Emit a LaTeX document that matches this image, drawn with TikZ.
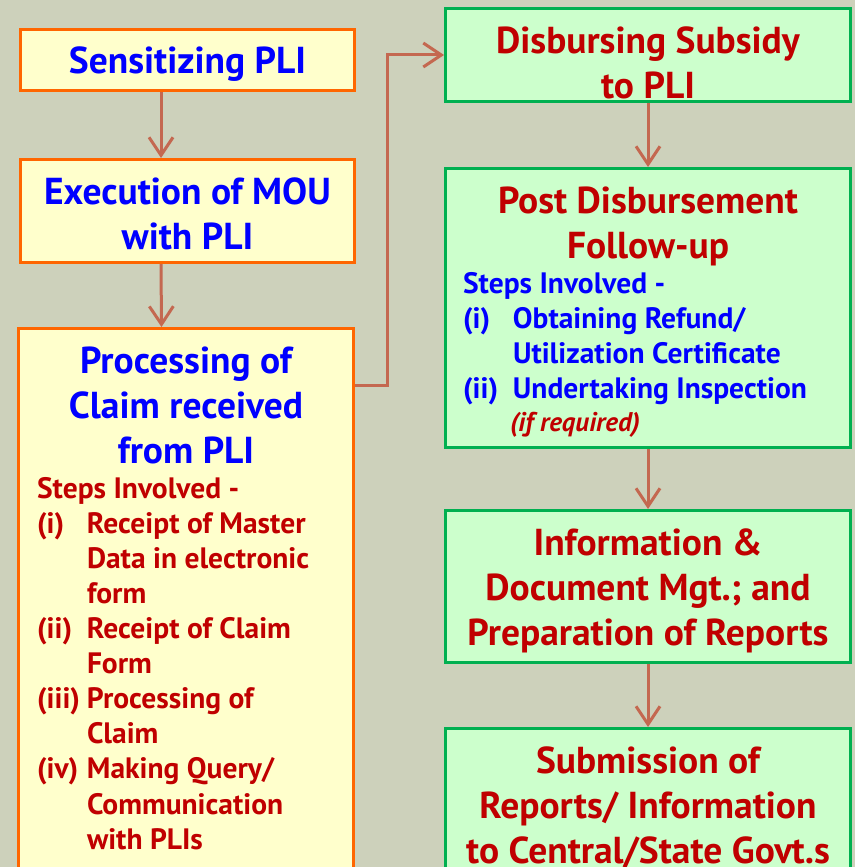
\documentclass[tikz,border=0pt]{standalone}
\usepackage{fontspec}
\setmainfont{PT Sans}
\usetikzlibrary{arrows.meta,positioning}
\definecolor{bgcol}{RGB}{205,209,187}
\definecolor{yellowfill}{RGB}{255,255,204}
\definecolor{orangeline}{RGB}{255,102,0}
\definecolor{greenfill}{RGB}{204,255,204}
\definecolor{greenline}{RGB}{0,176,80}
\definecolor{arrowcol}{RGB}{196,104,80}
\definecolor{ttblue}{RGB}{0,0,255}
\definecolor{ttred}{RGB}{192,0,0}
\newcommand{\titlefont}{\fontsize{37.5}{45}\selectfont\bfseries}
\newcommand{\stepsfont}{\fontsize{29.5}{35.1}\selectfont\bfseries}
\newcommand{\boxtext}[3]{\begin{minipage}[c][#2][t]{#1}#3\end{minipage}}
\newcommand{\firstline}{\rule{0pt}{44.5pt}}
\newcommand{\stepline}[2]{\par\hangindent=50pt\hangafter=1\noindent\makebox[50pt][l]{#1}#2\par}
\tikzset{
  yellowbox/.style={rectangle, draw=orangeline, fill=yellowfill, line width=3pt, inner sep=0pt, anchor=north west},
  greenbox/.style={rectangle, draw=greenline, fill=greenfill, line width=3pt, inner sep=0pt, anchor=north west},
  flow/.style={draw=arrowcol, line width=3pt, -{Straight Barb[length=18pt,width=24pt]}}
}
\begin{document}
\begin{tikzpicture}[x=1pt,y=-1pt]
    \useasboundingbox (0,0) rectangle (855,867);
    \fill [bgcol] (0,0) rectangle (855,867);
    \begin{scope}
        \clip (0,0) rectangle (855,867);
        % Caselle a sinistra
        \node [yellowbox] (sens) at (19,28) {\boxtext{334pt}{61pt}{\centering\titlefont\color{ttblue}\firstline Sensitizing PLI\par}};
        \node [yellowbox] (mou) at (19,158) {\boxtext{334pt}{103pt}{\centering\titlefont\color{ttblue}\firstline Execution of MOU\\with PLI\par}};
        \node [yellowbox] (claim) at (17,327) {\boxtext{335pt}{600pt}{\centering\titlefont\color{ttblue}\firstline Processing of\\Claim received\\from PLI\par
            \raggedright\leftskip=18.5pt\stepsfont\color{ttred}Steps Involved -\par
            \stepline{(i)}{Receipt of Master\newline Data in electronic\newline form}
            \stepline{(ii)}{Receipt of Claim\newline Form}
            \stepline{(iii)}{Processing of\newline Claim}
            \stepline{(iv)}{Making Query/\newline Communication\newline with PLIs}}};
        % Caselle a destra
        \node [greenbox] (disb) at (444,7) {\boxtext{405pt}{93pt}{\centering\titlefont\color{ttred}\firstline Disbursing Subsidy\\to PLI\par}};
        \node [greenbox] (post) at (444,167) {\boxtext{405pt}{279pt}{\centering\titlefont\color{ttred}\firstline Post Disbursement\\Follow-up\par
            \raggedright\leftskip=17.5pt\stepsfont\color{ttblue}Steps Involved -\par
            \stepline{(i)}{Obtaining Refund/\newline Utilization Certificate}
            \stepline{(ii)}{Undertaking Inspection}
            {\fontsize{27}{33}\selectfont\bfseries\itshape\color{ttred}\hspace*{47pt}(if required)\par}}};
        \node [greenbox] (info) at (444,509) {\boxtext{405pt}{152pt}{\centering\titlefont\color{ttred}\firstline Information \&\\Document Mgt.; and\\Preparation of Reports\par}};
        \node [greenbox] (subm) at (444,727) {\boxtext{405pt}{200pt}{\centering\titlefont\color{ttred}\firstline Submission of\\Reports/ Information\\to Central/State Govt.s\par}};
    \end{scope}
    % Frecce
    \draw [flow] ([xshift=-26.5pt]sens.south) -- ([xshift=-26.5pt]mou.north);
    \draw [flow] ([xshift=-26.5pt]mou.south) -- ([xshift=-24.5pt]claim.north);
    \draw [flow] ([yshift=-58.5pt]claim.north east) -- ++(32,0) |- (disb.west);
    \draw [flow] (disb.south) -- (post.north);
    \draw [flow] (post.south) -- (info.north);
    \draw [flow] (info.south) -- (subm.north);
\end{tikzpicture}
\end{document}
